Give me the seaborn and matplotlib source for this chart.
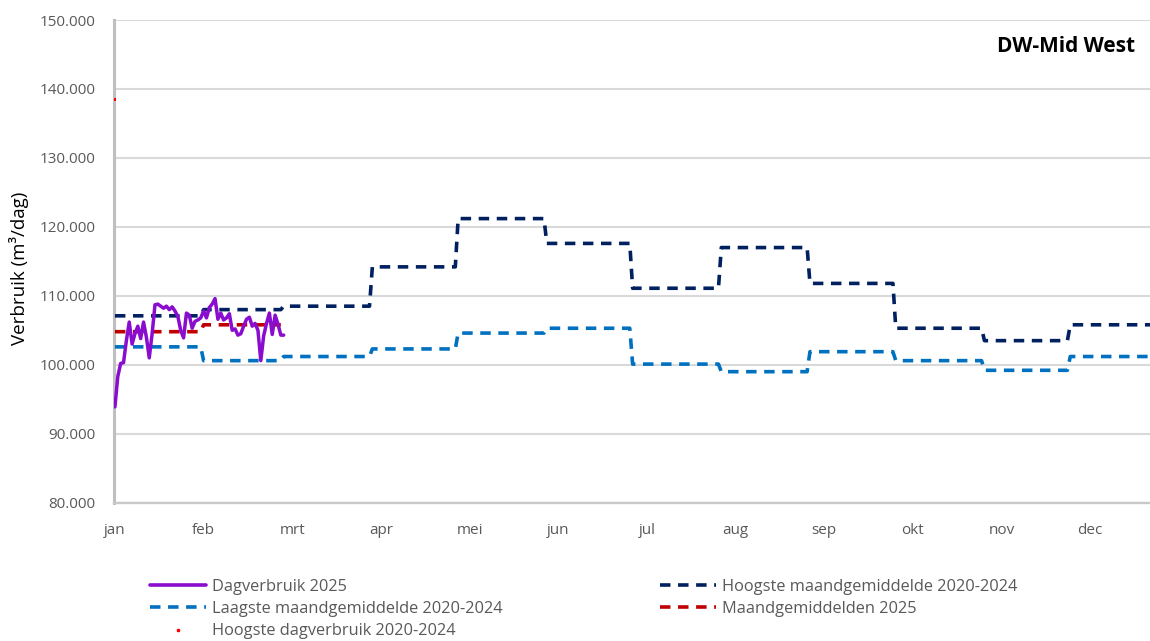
import numpy as np
import pandas as pd
import matplotlib
matplotlib.use('Agg')
import matplotlib.pyplot as plt
from matplotlib.lines import Line2D
from matplotlib.ticker import FuncFormatter, FixedLocator
import seaborn as sns

# ---------------- data ----------------
months = ['jan', 'feb', 'mrt', 'apr', 'mei', 'jun', 'jul', 'aug', 'sep', 'okt', 'nov', 'dec']
month_days = [31, 28, 31, 30, 31, 30, 31, 31, 30, 31, 30, 31]
tick_days = [1, 32, 63, 94, 125, 156, 187, 218, 249, 280, 311, 342]

hoogste_maandgem = [107100, 108000, 108500, 114200, 121200, 117600,
                    111100, 117000, 111800, 105300, 103500, 105800]
laagste_maandgem = [102600, 100600, 101200, 102300, 104600, 105300,
                    100100, 99000, 101900, 100600, 99200, 101200]
maandgem_2025 = [104800, 105800]

dagverbruik_2025 = [93900, 98300, 100200, 100300, 103500, 106200, 103000, 104500, 105600, 103800,
                    106200, 104000, 101000, 104500, 108700, 108800, 108500, 108200, 108500, 108000,
                    108400, 107800, 107000, 105000, 103900, 107500, 107200, 105300, 106300, 106500,
                    106800, 107800, 106800, 108300, 108800, 109600, 106600, 107500, 106500, 106800,
                    107400, 105000, 105200, 104300, 104500, 105600, 106600, 106900, 105600, 106000,
                    105000, 100600, 104200, 106000, 107500, 104400, 107200, 105900, 104300, 104300]

hoogste_dag_x = [1]
hoogste_dag_y = [138500]

labels = ['Dagverbruik 2025', 'Hoogste maandgemiddelde 2020-2024',
          'Laagste maandgemiddelde 2020-2024', 'Maandgemiddelden 2025',
          'Hoogste dagverbruik 2020-2024']
colors = ['#8A0CCF', '#002060', '#0070C0', '#C00000', '#FF0000']

# ---------------- build tables ----------------
days = np.arange(1, sum(month_days) + 1)
df_steps = pd.DataFrame({
    'dag': days,
    'hoog': np.repeat(hoogste_maandgem, month_days),
    'laag': np.repeat(laagste_maandgem, month_days),
})
df_m25 = pd.DataFrame({'dag': np.arange(1, sum(month_days[:2]) + 1),
                       'waarde': np.repeat(maandgem_2025, month_days[:2])})
df_dag = pd.DataFrame({'dag': np.arange(1, len(dagverbruik_2025) + 1),
                       'waarde': dagverbruik_2025})
df_hd = pd.DataFrame({'dag': hoogste_dag_x, 'waarde': hoogste_dag_y})

# ---------------- figure ----------------
sns.set_theme(style='white')
plt.rcParams['font.family'] = ['Open Sans', 'DejaVu Sans']

W, H = 1150, 641
fig = plt.figure(figsize=(W / 100, H / 100), dpi=100)
left_px, right_px, top_px, bot_px = 113.5, 1157.5, 20, 502.7
ax = fig.add_axes([left_px / W, 1 - bot_px / H, (right_px - left_px) / W, (bot_px - top_px) / H])

dash = (0, (2.9, 2.1))
lw = 2.6
sns.lineplot(data=df_steps, x='dag', y='laag', ax=ax, color=colors[2], lw=lw,
             linestyle=dash, label=labels[2], zorder=3)
sns.lineplot(data=df_steps, x='dag', y='hoog', ax=ax, color=colors[1], lw=lw,
             linestyle=dash, label=labels[1], zorder=3)
sns.lineplot(data=df_m25, x='dag', y='waarde', ax=ax, color=colors[3], lw=lw,
             linestyle=dash, label=labels[3], zorder=4)
sns.lineplot(data=df_dag, x='dag', y='waarde', ax=ax, color=colors[0], lw=2.5,
             label=labels[0], zorder=5)
sns.scatterplot(data=df_hd, x='dag', y='waarde', ax=ax, color=colors[4], s=3,
                marker='s', edgecolor='none', label=labels[4], zorder=6, clip_on=False)

if ax.get_legend() is not None:
    ax.get_legend().remove()

ax.set_xlim(0.5, 365.5)
ax.set_ylim(80000, 150000)
ax.yaxis.set_major_locator(FixedLocator(np.arange(80000, 150001, 10000)))
ax.yaxis.set_major_formatter(FuncFormatter(lambda v, p: f"{v:,.0f}".replace(',', '.')))
ax.set_xticks(tick_days)
ax.set_xticklabels(months)

ax.grid(axis='y', color='#D9D9D9', lw=1.5)
ax.grid(axis='x', visible=False)
ax.set_axisbelow(True)
for s in ['top', 'right']:
    ax.spines[s].set_visible(False)
ax.spines['left'].set_color('#BFBFBF')
ax.spines['left'].set_linewidth(2.2)
ax.spines['bottom'].set_color('#C8C8C8')
ax.spines['bottom'].set_linewidth(1.7)

ax.tick_params(axis='both', length=0, labelsize=11, labelcolor='#595959')
ax.tick_params(axis='y', pad=13)
ax.tick_params(axis='x', pad=14.5)
ax.set_xlabel('')
ax.set_ylabel('')

fig.text(19 / W, 1 - 268 / H, 'Verbruik (m³/dag)', rotation=90, ha='center', va='center',
         fontsize=13.5, color='#000000')
fig.text(1135 / W, 1 - 46 / H, 'DW-Mid West', ha='right', va='center',
         fontsize=15, fontweight='bold', color='#000000')

# ---------------- legends ----------------
def handle(i, dashed):
    return Line2D([], [], color=colors[i], lw=lw, linestyle=dash if dashed else '-')

h_dag = handle(0, False)
h_hoog = handle(1, True)
h_laag = handle(2, True)
h_m25 = handle(3, True)
h_hd = Line2D([], [], color=colors[4], marker='s', markersize=1.5, linestyle='none')

common = dict(frameon=False, fontsize=11.8, labelcolor='#595959', handlelength=3.4,
              handletextpad=0.4, borderpad=0, borderaxespad=0, labelspacing=0.38,
              loc='upper left')
fig.legend(handles=[h_dag, h_laag, h_hd], labels=[labels[0], labels[2], labels[4]],
           bbox_to_anchor=(150 / W, 1 - 579 / H), **common)
fig.legend(handles=[h_hoog, h_m25], labels=[labels[1], labels[3]],
           bbox_to_anchor=(660 / W, 1 - 579 / H), **common)

fig.savefig('out.png', dpi=100)
